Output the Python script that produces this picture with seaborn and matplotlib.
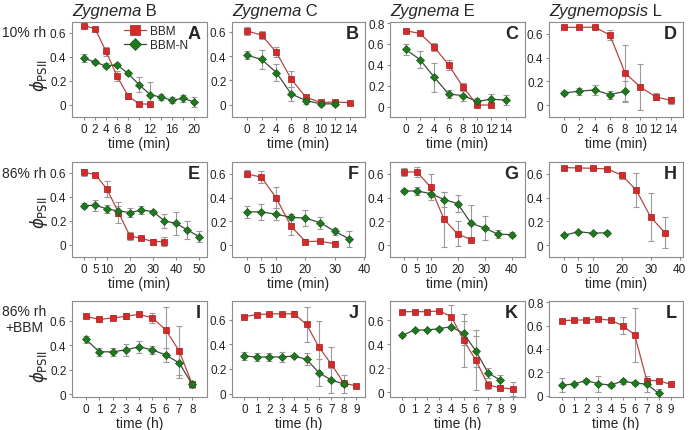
import seaborn as sns
import matplotlib.pyplot as plt

sns.set_style("ticks")
plt.rcParams['font.family'] = ['Liberation Sans', 'DejaVu Sans']
plt.rcParams['mathtext.fontset'] = 'dejavusans'

# ---- data (phi PSII, mean and error) ----
# row 1: 10% rh, time in min
t_a_bbm = [0, 2, 4, 6, 8, 10, 12]
a_bbm = [0.66, 0.635, 0.445, 0.24, 0.076, 0.01, 0.006]
a_bbm_err = [0.015, 0.015, 0.04, 0.04, 0.025, 0.015, 0.02]
t_a_n = [0, 2, 4, 6, 8, 10, 12, 14, 16, 18, 20]
a_n = [0.39, 0.355, 0.325, 0.335, 0.262, 0.17, 0.087, 0.065, 0.04, 0.055, 0.027]
a_n_err = [0.03, 0.015, 0.02, 0.015, 0.015, 0.065, 0.105, 0.025, 0.025, 0.03, 0.04]

t_b_bbm = [0, 2, 4, 6, 8, 10, 12, 14]
b_bbm = [0.607, 0.573, 0.432, 0.212, 0.062, 0.02, 0.022, 0.018]
b_bbm_err = [0.03, 0.03, 0.04, 0.065, 0.015, 0.015, 0.01, 0.015]
t_b_n = [0, 2, 4, 6, 8, 10, 12]
b_n = [0.408, 0.373, 0.265, 0.09, 0.035, 0.008, 0.008]
b_n_err = [0.035, 0.075, 0.07, 0.055, 0.03, 0.02, 0.02]

t_c_bbm = [0, 2, 4, 6, 8, 10, 12]
c_bbm = [0.727, 0.70, 0.57, 0.40, 0.19, 0.015, 0.015]
c_bbm_err = [0.01, 0.01, 0.04, 0.05, 0.04, 0.01, 0.01]
t_c_n = [0, 2, 4, 6, 8, 10, 12, 14]
c_n = [0.547, 0.45, 0.28, 0.12, 0.105, 0.05, 0.07, 0.063]
c_n_err = [0.05, 0.085, 0.14, 0.035, 0.05, 0.035, 0.05, 0.05]

t_d_bbm = [0, 2, 4, 6, 8, 10, 12, 14]
d_bbm = [0.655, 0.655, 0.657, 0.59, 0.27, 0.153, 0.07, 0.04]
d_bbm_err = [0.01, 0.01, 0.01, 0.04, 0.24, 0.19, 0.03, 0.03]
t_d_n = [0, 2, 4, 6, 8]
d_n = [0.103, 0.117, 0.128, 0.088, 0.117]
d_n_err = [0.02, 0.03, 0.04, 0.035, 0.085]

# row 2: 86% rh, time in min
t_e_bbm = [0, 5, 10, 15, 20, 25, 30, 35]
e_bbm = [0.605, 0.586, 0.464, 0.27, 0.075, 0.055, 0.028, 0.028]
e_bbm_err = [0.03, 0.015, 0.065, 0.09, 0.03, 0.015, 0.025, 0.035]
t_e_n = [0, 5, 10, 15, 20, 25, 30, 35, 40, 45, 50]
e_n = [0.328, 0.33, 0.30, 0.283, 0.27, 0.29, 0.278, 0.2, 0.18, 0.125, 0.07]
e_n_err = [0.02, 0.045, 0.03, 0.04, 0.04, 0.03, 0.015, 0.06, 0.095, 0.075, 0.045]

t_f_bbm = [0, 5, 10, 15, 20, 25, 30]
f_bbm = [0.60, 0.572, 0.40, 0.163, 0.03, 0.033, 0.011]
f_bbm_err = [0.03, 0.05, 0.09, 0.075, 0.02, 0.01, 0.02]
t_f_n = [0, 5, 10, 15, 20, 25, 30, 35]
f_n = [0.28, 0.28, 0.26, 0.235, 0.227, 0.19, 0.116, 0.052]
f_n_err = [0.05, 0.07, 0.05, 0.025, 0.065, 0.05, 0.03, 0.07]

t_g_bbm = [0, 5, 10, 15, 20, 25]
g_bbm = [0.616, 0.616, 0.49, 0.218, 0.094, 0.047]
g_bbm_err = [0.03, 0.04, 0.11, 0.23, 0.105, 0.01]
t_g_n = [0, 5, 10, 15, 20, 25, 30, 35, 40]
g_n = [0.456, 0.456, 0.434, 0.384, 0.35, 0.185, 0.144, 0.092, 0.088]
g_n_err = [0.015, 0.03, 0.03, 0.06, 0.075, 0.15, 0.1, 0.035, 0.02]

t_h_bbm = [0, 5, 10, 15, 20, 25, 30, 35]
h_bbm = [0.653, 0.65, 0.647, 0.642, 0.589, 0.464, 0.236, 0.103]
h_bbm_err = [0.01, 0.01, 0.01, 0.01, 0.03, 0.14, 0.205, 0.13]
t_h_n = [0, 5, 10, 15]
h_n = [0.083, 0.113, 0.1, 0.105]
h_n_err = [0.01, 0.01, 0.01, 0.01]

# row 3: 86% rh + BBM, time in h
t_i_bbm = [0, 1, 2, 3, 4, 5, 6, 7, 8]
i_bbm = [0.635, 0.61, 0.622, 0.635, 0.652, 0.622, 0.524, 0.355, 0.08]
i_bbm_err = [0.01, 0.02, 0.02, 0.025, 0.02, 0.04, 0.19, 0.2, 0.02]
t_i_n = [0, 1, 2, 3, 4, 5, 6, 7, 8]
i_n = [0.447, 0.346, 0.346, 0.362, 0.387, 0.362, 0.32, 0.256, 0.08]
i_n_err = [0.03, 0.03, 0.03, 0.05, 0.05, 0.035, 0.06, 0.12, 0.03]

t_j_bbm = [0, 1, 2, 3, 4, 5, 6, 7, 8, 9]
j_bbm = [0.624, 0.64, 0.646, 0.646, 0.646, 0.56, 0.376, 0.237, 0.085, 0.063]
j_bbm_err = [0.01, 0.01, 0.01, 0.01, 0.02, 0.14, 0.21, 0.14, 0.02, 0.01]
t_j_n = [0, 1, 2, 3, 4, 5, 6, 7, 8]
j_n = [0.305, 0.297, 0.297, 0.297, 0.305, 0.278, 0.169, 0.109, 0.079]
j_n_err = [0.03, 0.035, 0.03, 0.04, 0.01, 0.05, 0.11, 0.1, 0.07]

t_k_bbm = [0, 1, 2, 3, 4, 5, 6, 7, 8, 9]
k_bbm = [0.671, 0.671, 0.671, 0.677, 0.63, 0.433, 0.266, 0.06, 0.036, 0.027]
k_bbm_err = [0.01, 0.01, 0.01, 0.01, 0.1, 0.22, 0.25, 0.03, 0.01, 0.06]
t_k_n = [0, 1, 2, 3, 4, 5, 6, 7, 8]
k_n = [0.474, 0.518, 0.518, 0.53, 0.545, 0.49, 0.342, 0.16, 0.1]
k_n_err = [0.01, 0.01, 0.01, 0.01, 0.01, 0.1, 0.13, 0.04, 0.04]

t_l_bbm = [0, 1, 2, 3, 4, 5, 6, 7, 8, 9]
l_bbm = [0.643, 0.646, 0.649, 0.657, 0.646, 0.6, 0.52, 0.13, 0.13, 0.097]
l_bbm_err = [0.01, 0.01, 0.01, 0.01, 0.01, 0.07, 0.23, 0.02, 0.01, 0.015]
t_l_n = [0, 1, 2, 3, 4, 5, 6, 7, 8]
l_n = [0.089, 0.103, 0.13, 0.103, 0.092, 0.125, 0.109, 0.1, 0.02]
l_n_err = [0.06, 0.01, 0.01, 0.07, 0.02, 0.02, 0.015, 0.07, 0.04]

col_titles = [("Zygnema", " B"), ("Zygnema", " C"), ("Zygnema", " E"), ("Zygnemopsis", " L")]
row_labels = ["10% rh", "86% rh", "86% rh\n+BBM"]

# ---- styling ----
RED, RED_EDGE, RED_LINE = '#d42a2a', '#a51d1d', '#b8463f'
GREEN, GREEN_EDGE, GREEN_LINE = '#1f7a1f', '#165516', '#3c4d3c'
ERR = '#9a9a9a'
SPINE = '#8c8c8c'

W, H = 689, 431
fig = plt.figure(figsize=(W / 100, H / 100), dpi=100)

col_left = [72, 232, 390, 549]
col_width = [135, 133, 135, 134]
row_top = [23, 163, 302]
row_height = [95, 95, 96]


def make_ax(r, c):
    l = col_left[c] / W
    w = col_width[c] / W
    h = row_height[r] / H
    b = 1 - (row_top[r] + row_height[r]) / H
    return fig.add_axes([l, b, w, h])


def series(ax, t, v, err, face, edge, line, marker, ms, label=None):
    ax.errorbar(t, v, yerr=err, fmt='none', ecolor=ERR, elinewidth=0.8,
                capsize=2, capthick=0.8, zorder=1)
    sns.lineplot(x=t, y=v, ax=ax, color=line, linewidth=0.9, marker=marker,
                 markersize=ms, markerfacecolor=face, markeredgecolor=edge,
                 markeredgewidth=0.5, errorbar=None, label=label,
                 legend=False, zorder=3)


panels = [
    # row, col, bbm (t, v, e), bbm-n (t, v, e), xlim, xticks, xlabels, ylim, yticks, letter, unit
    (0, 0, (t_a_bbm, a_bbm, a_bbm_err), (t_a_n, a_n, a_n_err), (-2.2, 22.4),
     [0, 2, 4, 6, 8, 10, 12, 14, 16, 18, 20], ['0', '2', '4', '6', '8', '', '12', '', '16', '', '20'],
     (-0.1, 0.69), [0, 0.2, 0.4, 0.6], 'A', 'min'),
    (0, 1, (t_b_bbm, b_bbm, b_bbm_err), (t_b_n, b_n, b_n_err), (-2, 16),
     list(range(0, 15, 2)), None, (-0.1, 0.68), [0, 0.2, 0.4, 0.6], 'B', 'min'),
    (0, 2, (t_c_bbm, c_bbm, c_bbm_err), (t_c_n, c_n, c_n_err), (-2.2, 16.7),
     list(range(0, 15, 2)), None, (-0.1, 0.81), [0, 0.2, 0.4, 0.6, 0.8], 'C', 'min'),
    (0, 3, (t_d_bbm, d_bbm, d_bbm_err), (t_d_n, d_n, d_n_err), (-2, 15.6),
     list(range(0, 15, 2)), None, (-0.1, 0.7), [0, 0.2, 0.4, 0.6], 'D', 'min'),
    (1, 0, (t_e_bbm, e_bbm, e_bbm_err), (t_e_n, e_n, e_n_err), (-5.2, 53.5),
     [0, 5, 10, 20, 30, 40, 50], None, (-0.1, 0.69), [0, 0.2, 0.4, 0.6], 'E', 'min'),
    (1, 1, (t_f_bbm, f_bbm, f_bbm_err), (t_f_n, f_n, f_n_err), (-5, 40.3),
     [0, 5, 10, 20, 30, 40], None, (-0.1, 0.7), [0, 0.2, 0.4, 0.6], 'F', 'min'),
    (1, 2, (t_g_bbm, g_bbm, g_bbm_err), (t_g_n, g_n, g_n_err), (-5, 45),
     [0, 5, 10, 20, 30, 40], None, (-0.1, 0.7), [0, 0.2, 0.4, 0.6], 'G', 'min'),
    (1, 3, (t_h_bbm, h_bbm, h_bbm_err), (t_h_n, h_n, h_n_err), (-5.2, 41.2),
     [0, 5, 10, 20, 30, 40], None, (-0.1, 0.7), [0, 0.2, 0.4, 0.6], 'H', 'min'),
    (2, 0, (t_i_bbm, i_bbm, i_bbm_err), (t_i_n, i_n, i_n_err), (-1.05, 9.1),
     list(range(0, 9)), None, (-0.022, 0.76), [0, 0.2, 0.4, 0.6], 'I', 'h'),
    (2, 1, (t_j_bbm, j_bbm, j_bbm_err), (t_j_n, j_n, j_n_err), (-1, 9.7),
     list(range(0, 10)), None, (-0.027, 0.75), [0, 0.2, 0.4, 0.6], 'J', 'h'),
    (2, 2, (t_k_bbm, k_bbm, k_bbm_err), (t_k_n, k_n, k_n_err), (-1, 10),
     list(range(0, 10)), None, (-0.04, 0.76), [0, 0.2, 0.4, 0.6], 'K', 'h'),
    (2, 3, (t_l_bbm, l_bbm, l_bbm_err), (t_l_n, l_n, l_n_err), (-1.1, 10),
     list(range(0, 10)), None, (-0.01, 0.81), [0, 0.2, 0.4, 0.6, 0.8], 'L', 'h'),
]

ylabel_y = [0.45, 0.48, 0.33]

for (r, c, bbm, bbmn, xlim, xticks, xlabels, ylim, yticks, letter, unit) in panels:
    ax = make_ax(r, c)
    first = (r == 0 and c == 0)
    series(ax, *bbm, RED, RED_EDGE, RED_LINE, 's', 4.2, 'BBM' if first else None)
    series(ax, *bbmn, GREEN, GREEN_EDGE, GREEN_LINE, 'D', 3.6, 'BBM-N' if first else None)

    ax.set_xlim(*xlim)
    ax.set_ylim(*ylim)
    ax.set_xticks(xticks)
    ax.set_xticklabels(xlabels if xlabels else [str(x) for x in xticks])
    ax.set_yticks(yticks)
    ax.set_yticklabels(['0' if y == 0 else f'{y:.1f}' for y in yticks])

    for sp in ax.spines.values():
        sp.set_visible(True)
        sp.set_color(SPINE)
        sp.set_linewidth(0.8)
    ax.tick_params(axis='both', direction='out', length=2.5, width=0.8, color=SPINE,
                   labelsize=8.5, labelcolor='#222222', pad=1.5)

    ax.set_xlabel(f'time ({unit})', fontsize=10, labelpad=1)
    if c == 0:
        ax.set_ylabel(r'$\phi_{\mathrm{PSII}}$', fontsize=12)
        ax.yaxis.set_label_coords(-0.165, ylabel_y[r])
    else:
        ax.set_ylabel('')

    ax.text(0.95, 0.965, letter, transform=ax.transAxes, ha='right', va='top',
            fontsize=13, fontweight='bold')

    if r == 0:
        genus, strain = col_titles[c]
        t1 = ax.annotate(genus, xy=(0, 1), xycoords='axes fraction', xytext=(0, 3),
                         textcoords='offset points', ha='left', va='bottom',
                         fontsize=12, style='italic')
        ax.annotate(strain, xy=(1, 0), xycoords=t1, ha='left', va='bottom', fontsize=12)

    if first:
        ax.legend(loc='upper left', bbox_to_anchor=(0.36, 1.0), frameon=False,
                  fontsize=8.5, handlelength=1.9, handletextpad=0.3, markerscale=1.8,
                  labelspacing=0.2, borderaxespad=0, borderpad=0.25)

# row labels on the left
fig.text(24 / W, 1 - 33 / H, row_labels[0], ha='center', va='center', fontsize=10)
fig.text(24 / W, 1 - 174 / H, row_labels[1], ha='center', va='center', fontsize=10)
fig.text(24 / W, 1 - 320 / H, row_labels[2], ha='center', va='center', fontsize=10,
         multialignment='center', linespacing=1.2)

fig.savefig('out.png', dpi=100)
